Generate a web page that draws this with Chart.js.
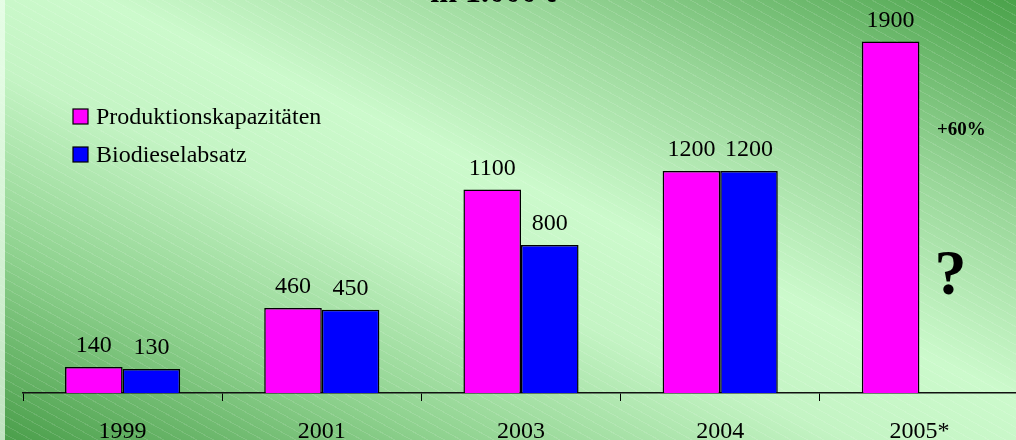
<!DOCTYPE html>
<html>
<head>
<meta charset="utf-8">
<script src="https://cdn.jsdelivr.net/npm/chart.js@4/dist/chart.umd.min.js"></script>
<style>
  html, body {
    margin: 0;
    padding: 0;
  }
  body {
    width: 1016px;
    height: 440px;
    overflow: hidden;
    background:
      linear-gradient(to right, rgba(240, 255, 240, 0.7) 0 5px, transparent 5px),
      repeating-linear-gradient(29deg, transparent 0 7px, rgba(255, 255, 255, 0.12) 7px 8px),
      linear-gradient(to top right, #4a9e4a 0%, #8fd28f 22%, #c4f4c4 42%, #ccfacc 55%, #98d698 76%, #4aa24a 100%);
  }
  /* the plot runs a few pixels past the right edge, as in the original */
  #wrap {
    position: relative;
    width: 1019px;
    height: 440px;
  }
</style>
</head>
<body>
<div id="wrap"><canvas id="myChart"></canvas></div>
<script>
//chart data
const years = ["1999", "2001", "2003", "2004", "2005*"];
const kapazitaet = [140, 460, 1100, 1200, 1900];
const absatz = [130, 450, 800, 1200, null];
const seriesNames = ["Produktionskapazitäten", "Biodieselabsatz"];
const seriesColors = ["#ff00ff", "#0000ff"];
const titleText = "in 1.000 t";
const growthText = "+60%";
const questionText = "?";

const serif = "'Liberation Serif', 'Times New Roman', serif";

//title at the top (mostly cut off in the original)
const titlePlugin = {
  id: "title",
  afterDraw(chart) {
    let ctx = chart.ctx;
    ctx.save();
    ctx.font = `bold 32px ${serif}`;
    ctx.fillStyle = "#000";
    ctx.textAlign = "center";
    ctx.textBaseline = "alphabetic";
    ctx.fillText(titleText, 493, 2);
    ctx.restore();
  }
};

//numbers above the bars
const valuePlugin = {
  id: "values",
  afterDatasetsDraw(chart) {
    let ctx = chart.ctx;
    ctx.save();
    ctx.font = `24px ${serif}`;
    ctx.fillStyle = "#000";
    ctx.textAlign = "center";
    ctx.textBaseline = "alphabetic";
    chart.data.datasets.forEach((ds, i) => {
      let meta = chart.getDatasetMeta(i);
      meta.data.forEach((bar, j) => {
        if (ds.data[j] == null) return;
        ctx.fillText(String(ds.data[j]), bar.x, bar.y - 15);
      });
    });
    ctx.restore();
  }
};

//legend drawn in the upper left
const legendPlugin = {
  id: "sideLegend",
  afterDraw(chart) {
    let ctx = chart.ctx;
    ctx.save();
    ctx.font = `24px ${serif}`;
    ctx.textBaseline = "middle";
    ctx.textAlign = "left";
    chart.data.datasets.forEach((ds, i) => {
      let y = 117 + i * 38;
      ctx.fillStyle = ds.backgroundColor;
      ctx.fillRect(73, y - 8, 15, 15);
      ctx.strokeStyle = "#000";
      ctx.lineWidth = 1.2;
      ctx.strokeRect(73, y - 8, 15, 15);
      ctx.fillStyle = "#000";
      ctx.fillText(ds.label, 96, y + 1);
    });
    ctx.restore();
  }
};

//annotations next to the 2005 bar
const notePlugin = {
  id: "notes",
  afterDraw(chart) {
    let ctx = chart.ctx;
    let x = chart.scales.x.getPixelForValue(4);
    ctx.save();
    ctx.fillStyle = "#000";
    ctx.textAlign = "center";
    ctx.textBaseline = "middle";
    ctx.font = `bold 19px ${serif}`;
    ctx.fillText(growthText, x + 42, 130);
    ctx.font = `bold 64px ${serif}`;
    ctx.fillText(questionText, x + 31, 277);
    ctx.restore();
  }
};

function loadChart() {
  let ctx = document.getElementById("myChart").getContext("2d");
  new Chart(ctx, {
    type: "bar",
    data: {
      labels: years,
      datasets: [
        {
          label: seriesNames[0],
          data: kapazitaet,
          backgroundColor: seriesColors[0],
          borderColor: "#000",
          borderWidth: 1.5
        },
        {
          label: seriesNames[1],
          data: absatz,
          backgroundColor: seriesColors[1],
          borderColor: "#000",
          borderWidth: 1.5
        }
      ]
    },
    options: {
      responsive: true,
      maintainAspectRatio: false,
      animation: false,
      layout: {
        padding: { left: 23, right: 0, top: 4.5, bottom: 0 }
      },
      datasets: {
        bar: {
          categoryPercentage: 0.578,
          barPercentage: 1
        }
      },
      plugins: {
        legend: { display: false },
        tooltip: { enabled: false }
      },
      scales: {
        x: {
          afterFit(scale) {
            //keep the axis line at the same height as the original
            scale.height = 47;
          },
          grid: {
            display: true,
            drawOnChartArea: false,
            drawTicks: true,
            tickLength: 8,
            color: "#000",
            lineWidth: 1,
            offset: true
          },
          border: { display: true, color: "#111", width: 1.5 },
          ticks: {
            color: "#000",
            font: { family: serif, size: 24, lineHeight: 1 },
            padding: 19,
            maxRotation: 0
          }
        },
        y: {
          display: false,
          min: 0,
          max: 2100
        }
      }
    },
    plugins: [titlePlugin, valuePlugin, legendPlugin, notePlugin]
  });
}

window.onload = function() {
  loadChart();
};
</script>
</body>
</html>
